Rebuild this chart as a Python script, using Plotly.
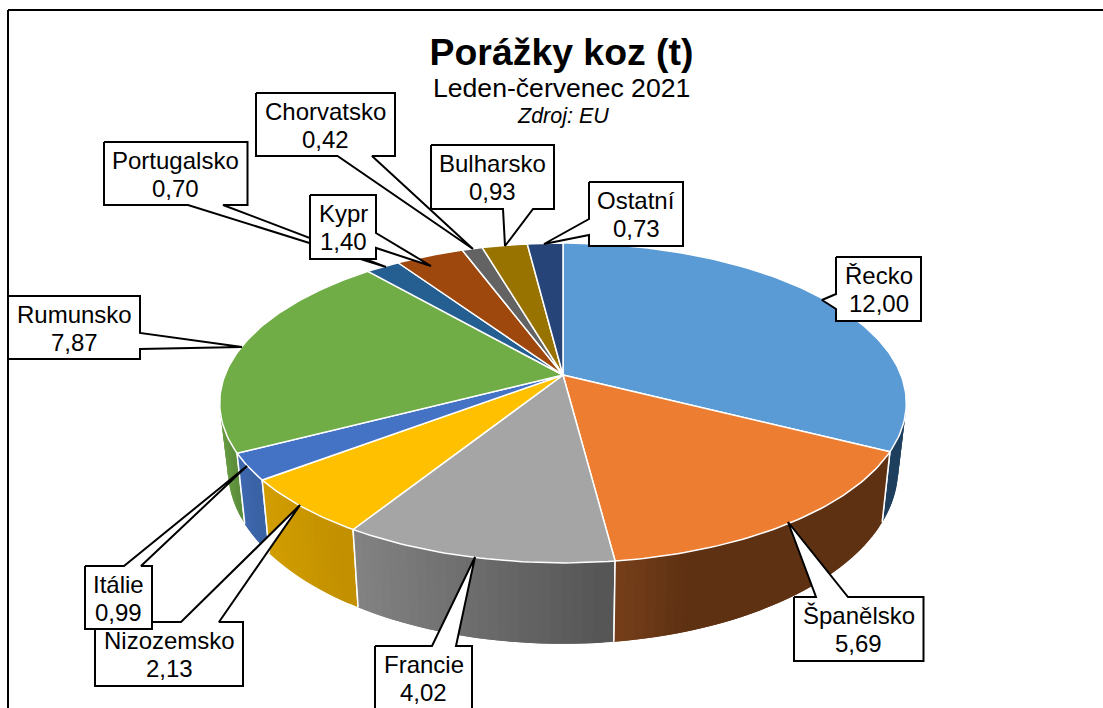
import math
import plotly.graph_objects as go

# ---------- data ----------
categories = ["Řecko", "Španělsko", "Francie", "Nizozemsko", "Itálie", "Rumunsko",
              "Portugalsko", "Kypr", "Chorvatsko", "Bulharsko", "Ostatní"]
values = [12.00, 5.69, 4.02, 2.13, 0.99, 7.87, 0.70, 1.40, 0.42, 0.93, 0.73]

# ---------- styles ----------
top_colors = ["#5B9BD5", "#ED7D31", "#A5A5A5", "#FFC000", "#4472C4", "#70AD47",
              "#255E91", "#9E480E", "#636363", "#997300", "#264478"]
wall_colors = {
    0: ((0x1F, 0x3F, 0x5E), (0x1F, 0x3F, 0x5E)),
    1: ((0x7A, 0x41, 0x1A), (0x5E, 0x31, 0x13)),
    2: ((0x84, 0x84, 0x84), (0x55, 0x55, 0x55)),
    3: ((0xD2, 0x9E, 0x00), (0xC2, 0x90, 0x00)),
    4: ((0x3E, 0x69, 0xB0), (0x3A, 0x62, 0xA5)),
    5: ((0x6A, 0x9F, 0x42), (0x5B, 0x8C, 0x3B)),
}
# label layout: box (x0, y0, x1, y1), tip (x, y), callout base on the box edge
label_layout = {
    "Řecko": ((836, 257, 921, 321), (822, 300), ((836, 294), (836, 309))),
    "Španělsko": ((794, 597, 923.5, 661), (788, 522), ((816, 597), (848, 597))),
    "Francie": ((375, 646, 472, 711), (475, 557), ((432, 646), (456, 646))),
    "Nizozemsko": ((95, 622, 243, 686), (300, 505), ((181, 622), (219, 622))),
    "Itálie": ((85, 566, 152, 629), (247, 466), ((124, 566), (141, 566))),
    "Rumunsko": ((8, 296, 140, 359), (242, 347), ((140, 333), (140, 349))),
    "Portugalsko": ((104, 142, 247.5, 205), (386, 267), ((188, 205), (223, 205))),
    "Kypr": ((310, 195, 376, 259), (431, 266), ((376, 233), (376, 248))),
    "Chorvatsko": ((256, 93, 395, 156), (473, 249), ((337.5, 156), (372, 156))),
    "Bulharsko": ((431, 145, 554, 209), (505, 246), ((503, 209), (533, 209))),
    "Ostatní": ((589, 182, 683, 246), (544, 244), ((589, 219), (589, 235))),
}

# projection of the disc (page-pixel data axes)
CX, CY, A, B, K = 563, 375, 338, 155, 0.175
A2, CY2, B2 = 330, 438.4, 169.5


def top_pt(t):
    X, Y = math.sin(t), -math.cos(t)
    w = 1 - K * Y
    return CX + A * X / w, CY + B * Y / w


def bot_pt(t):
    X, Y = math.sin(t), -math.cos(t)
    w = 1 - K * Y
    return CX + A2 * X / w, CY2 + B2 * Y / w


total = sum(values)
angles = [0.0]
for v in values:
    angles.append(angles[-1] + v / total * 2 * math.pi)

fig = go.Figure()


def poly(xs, ys, fill, line="white", width=1.5, name=None):
    fig.add_trace(go.Scatter(x=xs, y=ys, mode="lines", fill="toself", fillcolor=fill,
                             line=dict(color=line, width=width), hoverinfo="skip",
                             showlegend=False, name=name))


def hexc(c):
    return "#%02X%02X%02X" % tuple(int(round(v)) for v in c)


# walls: narrow overlapping strips for the horizontal shading, front half only
VIS0, VIS1 = math.radians(100), math.radians(260)
for i in [0, 5, 4, 3, 2, 1]:
    a0, a1 = max(angles[i], VIS0), min(angles[i + 1], VIS1)
    n = max(2, int(math.degrees(a1 - a0) / 1.5))
    ts = [a0 + (a1 - a0) * j / n for j in range(n + 1)]
    xl = top_pt(a1)[0]
    xr = top_pt(a0)[0]
    cl, cr = wall_colors[i]
    # painted from the far end towards a0, so each strip overlaps the one before
    for j in range(n - 1, -1, -1):
        t0, t1 = ts[j], ts[j + 1]
        seg = [t0, t1] if j == n - 1 else [t0, t1, ts[j + 2]]
        p = [top_pt(t) for t in seg] + [bot_pt(t) for t in reversed(seg)]
        xm = (top_pt(t0)[0] + top_pt(t1)[0]) / 2
        f = (xm - xl) / (xr - xl) if xr != xl else 0
        if i == 1:
            f = min(1, f / 0.3)
        col = hexc(tuple(cl[k] + (cr[k] - cl[k]) * f for k in range(3)))
        poly([q[0] for q in p] + [p[0][0]], [q[1] for q in p] + [p[0][1]], col, line=col, width=0)
    for t in (a0, a1):
        if VIS0 < t < VIS1:
            pa, pb = top_pt(t), bot_pt(t)
            fig.add_trace(go.Scatter(x=[pa[0], pb[0]], y=[pa[1], pb[1]], mode="lines",
                                     line=dict(color="white", width=1.5), hoverinfo="skip",
                                     showlegend=False))

# top faces
for i, cat in enumerate(categories):
    a0, a1 = angles[i], angles[i + 1]
    n = max(4, int(math.degrees(a1 - a0)))
    pts = [top_pt(a0 + (a1 - a0) * j / n) for j in range(n + 1)]
    poly([CX] + [p[0] for p in pts] + [CX], [CY] + [p[1] for p in pts] + [CY], top_colors[i], name=cat)

# callouts: box with wedge as one outline
annotations = []
LABEL_FONT = dict(family="Liberation Sans", size=24, color="#000000")
for cat, v in zip(categories, values):
    (x0, y0, x1, y1), tip, (b0, b1) = label_layout[cat]
    if b0[1] == b1[1] and b0[1] == y0:       # wedge on top edge
        path = [(x0, y0), b0, tip, b1, (x1, y0), (x1, y1), (x0, y1), (x0, y0)]
    elif b0[1] == b1[1]:                     # wedge on bottom edge
        path = [(x0, y0), (x1, y0), (x1, y1), b1, tip, b0, (x0, y1), (x0, y0)]
    elif b0[0] == x1:                        # wedge on right edge
        path = [(x0, y0), (x1, y0), b0, tip, b1, (x1, y1), (x0, y1), (x0, y0)]
    else:                                    # wedge on left edge
        path = [(x0, y0), (x1, y0), (x1, y1), (x0, y1), b1, tip, b0, (x0, y0)]
    fig.add_trace(go.Scatter(x=[p[0] for p in path], y=[p[1] for p in path], mode="lines",
                             fill="toself", fillcolor="white", line=dict(color="black", width=2),
                             hoverinfo="skip", showlegend=False))
    ymid = y0 + 32.5
    for txt, dy in ((cat, -14), (f"{v:.2f}".replace(".", ","), 14)):
        annotations.append(dict(x=(x0 + x1) / 2, y=ymid + dy, xref="x", yref="y", showarrow=False,
                                text=txt, font=LABEL_FONT, xanchor="center", yanchor="middle"))

annotations.append(dict(x=561.5, y=88, xref="x", yref="y", showarrow=False, text="Leden-červenec 2021",
                        font=dict(family="Liberation Sans", size=26.6, color="#000000")))
annotations.append(dict(x=562.5, y=116, xref="x", yref="y", showarrow=False, text="<i>Zdroj: EU</i>",
                        font=dict(family="Liberation Sans", size=21.5, color="#000000")))

fig.update_layout(
    width=1103, height=708, autosize=False,
    margin=dict(l=0, r=0, t=0, b=0),
    paper_bgcolor="white", plot_bgcolor="white",
    showlegend=False,
    title=dict(text="<b>Porážky koz (t)</b>", x=561.5 / 1103, y=1 - 52 / 708, xref="paper", yref="paper",
               xanchor="center", yanchor="middle",
               font=dict(family="Liberation Sans", size=37.4, color="#000000")),
    xaxis=dict(range=[0, 1103], visible=False, fixedrange=True),
    yaxis=dict(range=[708, 0], visible=False, fixedrange=True),
    annotations=annotations,
    shapes=[
        dict(type="line", x0=8, x1=8, y0=10, y1=708, xref="x", yref="y", line=dict(color="black", width=2)),
        dict(type="line", x0=8, x1=1103, y0=10, y1=10, xref="x", yref="y", line=dict(color="black", width=2)),
    ],
)

fig.write_html("out.html", post_script="document.body.style.margin='0';document.documentElement.style.overflow='hidden';",
               config=dict(displayModeBar=False))
